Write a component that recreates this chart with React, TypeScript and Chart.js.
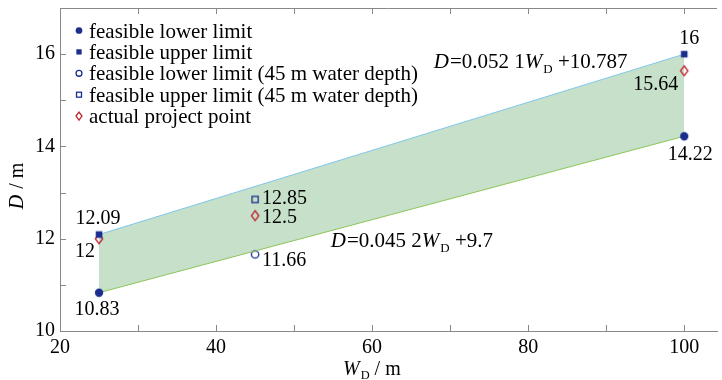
import React, { useEffect, useRef } from 'react';
import { Chart, registerables } from 'chart.js';

Chart.register(...registerables);

// ---------------- data ----------------
const lowerLimitW = [25, 100];
const lowerLimitD = [10.83, 14.22];
const upperLimitW = [25, 100];
const upperLimitD = [12.09, 16];
const lower45W = [45];
const lower45D = [11.66];
const upper45W = [45];
const upper45D = [12.85];
const projectW = [25, 45, 100];
const projectD = [12, 12.5, 15.64];

const xMajorTicks = [20, 40, 60, 80, 100];
const xMinorTicks = [20, 30, 40, 50, 60, 70, 80, 90, 100];
const yMajorTicks = [10, 12, 14, 16];
const yMinorTicks = [10, 11, 12, 13, 14, 15, 16, 17];

const legendLabels = [
  'feasible lower limit',
  'feasible upper limit',
  'feasible lower limit (45 m water depth)',
  'feasible upper limit (45 m water depth)',
  'actual project point',
];

// equation texts and their anchor (data coordinates)
const upperEqParts = ['D', '=0.052 1', 'W', 'D', ' +10.787'];
const lowerEqParts = ['D', '=0.045 2', 'W', 'D', ' +9.7'];
const upperEqAnchor = { x: 67.9, y: 15.69 };
const lowerEqAnchor = { x: 54.7, y: 11.81 };

// ---------------- styles ----------------
const FONT = '"Liberation Serif"';
const BLUE = '#1b2e8e';
const RED = '#c0242f';
const AXIS = '#888888';
const FILL = '#c6e0c9';
const UPPER_LINE = '#7fc6ea';
const LOWER_LINE = '#8cc65a';

type MarkerKind = 'filledCircle' | 'filledSquare' | 'openCircle' | 'openSquare' | 'diamond';
const legendKinds: MarkerKind[] = ['filledCircle', 'filledSquare', 'openCircle', 'openSquare', 'diamond'];

function drawMarker(ctx: CanvasRenderingContext2D, kind: MarkerKind, x: number, y: number, s: number) {
  ctx.save();
  ctx.lineWidth = 1.3;
  switch (kind) {
    case 'filledCircle':
      ctx.fillStyle = BLUE;
      ctx.beginPath();
      ctx.arc(x, y, 4.2 * s, 0, Math.PI * 2);
      ctx.fill();
      break;
    case 'filledSquare':
      ctx.fillStyle = BLUE;
      ctx.fillRect(x - 3.3 * s, y - 3.3 * s, 6.6 * s, 6.6 * s);
      break;
    case 'openCircle':
      ctx.strokeStyle = BLUE;
      ctx.beginPath();
      ctx.arc(x, y, 3.7 * s, 0, Math.PI * 2);
      ctx.stroke();
      break;
    case 'openSquare':
      ctx.strokeStyle = BLUE;
      ctx.strokeRect(x - 3.1 * s, y - 3.1 * s, 6.2 * s, 6.2 * s);
      break;
    case 'diamond':
      ctx.strokeStyle = RED;
      ctx.beginPath();
      ctx.moveTo(x, y - 5 * s);
      ctx.lineTo(x + 3.7 * s, y);
      ctx.lineTo(x, y + 5 * s);
      ctx.lineTo(x - 3.7 * s, y);
      ctx.closePath();
      ctx.stroke();
      break;
  }
  ctx.restore();
}

function markerCanvas(kind: MarkerKind): HTMLCanvasElement {
  const c = document.createElement('canvas');
  c.width = 14;
  c.height = 14;
  const cx = c.getContext('2d')!;
  drawMarker(cx, kind, 7, 7, 1);
  return c;
}

type Seg = { t: string; i?: boolean; sub?: boolean };

function richWidth(ctx: CanvasRenderingContext2D, segs: Seg[], size: number) {
  let w = 0;
  for (const s of segs) {
    const fs = s.sub ? size * 0.62 : size;
    ctx.font = `${s.i ? 'italic ' : ''}${fs}px ${FONT}`;
    w += ctx.measureText(s.t).width + (s.i && !s.sub ? 1 : 0);
  }
  return w;
}

function drawRich(ctx: CanvasRenderingContext2D, segs: Seg[], x: number, baseline: number, size: number) {
  ctx.textBaseline = 'alphabetic';
  ctx.textAlign = 'left';
  let cx = x;
  for (const s of segs) {
    const fs = s.sub ? size * 0.62 : size;
    ctx.font = `${s.i ? 'italic ' : ''}${fs}px ${FONT}`;
    ctx.fillText(s.t, cx, baseline + (s.sub ? size * 0.2 : 0));
    cx += ctx.measureText(s.t).width + (s.i && !s.sub ? 1 : 0);
  }
}

function eqSegs(p: string[]): Seg[] {
  return [
    { t: p[0], i: true },
    { t: p[1] },
    { t: p[2], i: true },
    { t: p[3], sub: true },
    { t: p[4] },
  ];
}

// point label placement relative to the marker
type LabelSpec = { x: number; y: number; dx: number; dy: number; align: CanvasTextAlign };
function buildLabels(): LabelSpec[] {
  return [
    { x: upperLimitW[1], y: upperLimitD[1], dx: 5, dy: -15, align: 'center' },
    { x: projectW[2], y: projectD[2], dx: -6, dy: 14, align: 'right' },
    { x: lowerLimitW[1], y: lowerLimitD[1], dx: 6, dy: 18, align: 'center' },
    { x: upperLimitW[0], y: upperLimitD[0], dx: -1, dy: -16, align: 'center' },
    { x: projectW[0], y: projectD[0], dx: -4, dy: 13, align: 'right' },
    { x: lowerLimitW[0], y: lowerLimitD[0], dx: -2, dy: 17, align: 'center' },
    { x: upper45W[0], y: upper45D[0], dx: 7, dy: -1, align: 'left' },
    { x: projectW[1], y: projectD[1], dx: 7, dy: 2, align: 'left' },
    { x: lower45W[0], y: lower45D[0], dx: 7, dy: 6, align: 'left' },
  ];
}

const decorPlugin = {
  id: 'decor',
  afterDraw(chart: any) {
    const ctx: CanvasRenderingContext2D = chart.ctx;
    const { left, right, top, bottom } = chart.chartArea;
    const xs = chart.scales.x;
    const ys = chart.scales.y;
    ctx.save();

    // top border
    ctx.strokeStyle = AXIS;
    ctx.lineWidth = 1;
    ctx.beginPath();
    ctx.moveTo(left, Math.round(top) + 0.5);
    ctx.lineTo(right, Math.round(top) + 0.5);
    ctx.stroke();

    // inward ticks
    const tl = 6;
    ctx.beginPath();
    for (const v of xMinorTicks) {
      const px = Math.round(xs.getPixelForValue(v)) + 0.5;
      ctx.moveTo(px, bottom);
      ctx.lineTo(px, bottom - tl);
      ctx.moveTo(px, top);
      ctx.lineTo(px, top + tl);
    }
    for (const v of yMinorTicks) {
      const py = Math.round(ys.getPixelForValue(v)) + 0.5;
      ctx.moveTo(left, py);
      ctx.lineTo(left + tl, py);
    }
    ctx.stroke();

    // legend
    legendLabels.forEach((lab, i) => {
      const base = 37.5 + i * 21.4;
      drawMarker(ctx, legendKinds[i], 79, base - 7, 0.8);
      ctx.fillStyle = '#000';
      ctx.font = `21px ${FONT}`;
      ctx.textAlign = 'left';
      ctx.textBaseline = 'alphabetic';
      ctx.fillText(lab, 89, base);
    });

    // point labels
    ctx.font = `20px ${FONT}`;
    ctx.textBaseline = 'middle';
    ctx.fillStyle = '#000';
    for (const l of buildLabels()) {
      ctx.textAlign = l.align;
      ctx.fillText(String(l.y), xs.getPixelForValue(l.x) + l.dx, ys.getPixelForValue(l.y) + l.dy);
    }

    // equations
    ctx.fillStyle = '#000';
    drawRich(ctx, eqSegs(upperEqParts), xs.getPixelForValue(upperEqAnchor.x), ys.getPixelForValue(upperEqAnchor.y), 21);
    drawRich(ctx, eqSegs(lowerEqParts), xs.getPixelForValue(lowerEqAnchor.x), ys.getPixelForValue(lowerEqAnchor.y), 21);

    // x axis title
    const xt: Seg[] = [{ t: 'W', i: true }, { t: 'D', sub: true }, { t: ' / m' }];
    drawRich(ctx, xt, 343, 375, 20);

    // y axis title
    const yt: Seg[] = [{ t: 'D', i: true }, { t: ' / m' }];
    const yw = richWidth(ctx, yt, 20);
    ctx.save();
    ctx.translate(23, 186);
    ctx.rotate(-Math.PI / 2);
    drawRich(ctx, yt, -yw / 2, 0, 20);
    ctx.restore();

    ctx.restore();
  },
};

export default function App() {
  const ref = useRef<HTMLCanvasElement | null>(null);

  useEffect(() => {
    if (!ref.current) return;
    const pts = (ws: number[], ds: number[]) => ws.map((w, i) => ({ x: w, y: ds[i] }));
    const chart = new Chart(ref.current, {
      type: 'scatter',
      data: {
        datasets: [
          {
            label: legendLabels[0],
            data: pts(lowerLimitW, lowerLimitD),
            showLine: true,
            borderColor: LOWER_LINE,
            borderWidth: 1,
            fill: false,
            pointStyle: markerCanvas('filledCircle'),
          },
          {
            label: legendLabels[1],
            data: pts(upperLimitW, upperLimitD),
            showLine: true,
            borderColor: UPPER_LINE,
            borderWidth: 1,
            backgroundColor: FILL,
            fill: '-1',
            pointStyle: markerCanvas('filledSquare'),
          },
          {
            label: legendLabels[2],
            data: pts(lower45W, lower45D),
            pointStyle: markerCanvas('openCircle'),
          },
          {
            label: legendLabels[3],
            data: pts(upper45W, upper45D),
            pointStyle: markerCanvas('openSquare'),
          },
          {
            label: legendLabels[4],
            data: pts(projectW, projectD),
            pointStyle: markerCanvas('diamond'),
          },
        ] as any,
      },
      options: {
        animation: false,
        responsive: false,
        devicePixelRatio: 1,
        layout: { padding: { top: 8, left: 0, right: 0, bottom: 0 } },
        plugins: {
          legend: { display: false },
          tooltip: { enabled: false },
          filler: { drawTime: 'beforeDatasetsDraw' },
        },
        scales: {
          x: {
            type: 'linear',
            min: 20,
            max: 104.2,
            grid: { display: false, drawTicks: false },
            border: { display: true, color: AXIS, width: 1 },
            ticks: { font: { family: FONT, size: 20 }, color: '#000', padding: 5, maxRotation: 0 },
            afterBuildTicks: (s: any) => {
              s.ticks = xMajorTicks.map((v) => ({ value: v }));
            },
            afterFit: (s: any) => {
              s.height = 49;
              s.paddingLeft = 0;
              s.paddingRight = 0;
            },
          },
          y: {
            type: 'linear',
            min: 10,
            max: 17,
            grid: { display: false, drawTicks: false },
            border: { display: true, color: AXIS, width: 1 },
            ticks: { font: { family: FONT, size: 20 }, color: '#000', padding: 5 },
            afterBuildTicks: (s: any) => {
              s.ticks = yMajorTicks.map((v) => ({ value: v }));
            },
            afterFit: (s: any) => {
              s.width = 60;
              s.paddingTop = 0;
              s.paddingBottom = 0;
            },
          },
        },
      } as any,
      plugins: [decorPlugin],
    });
    return () => chart.destroy();
  }, []);

  return (
    <div style={{ position: 'absolute', left: 0, top: 0, width: 722, height: 380, background: '#fff' }}>
      <canvas ref={ref} width={722} height={380} style={{ width: 722, height: 380 }} />
    </div>
  );
}
